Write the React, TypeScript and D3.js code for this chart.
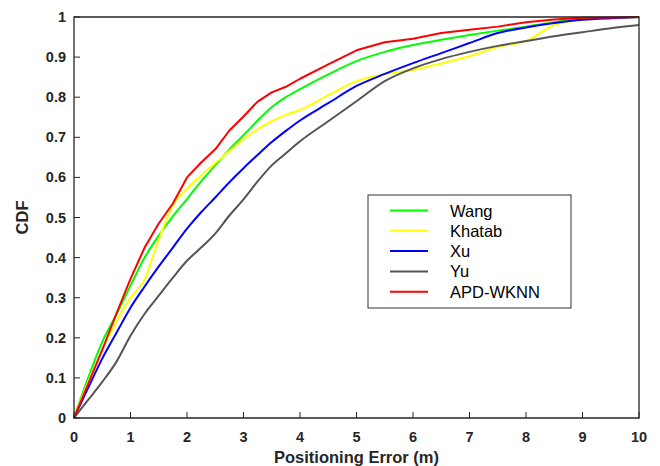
import React from 'react';
import * as d3 from 'd3';

// positioning error grid (m)
const errors = [0, 0.25, 0.5, 0.75, 1, 1.25, 1.5, 1.75, 2, 2.25, 2.5, 2.75, 3, 3.25, 3.5, 3.75, 4, 4.5, 5, 5.5, 6, 6.5, 7, 7.5, 8, 8.5, 9, 9.5, 10];

const wang = [0, 0.1, 0.19, 0.258, 0.33, 0.4, 0.455, 0.503, 0.546, 0.59, 0.63, 0.67, 0.705, 0.742, 0.775, 0.8, 0.82, 0.857, 0.89, 0.913, 0.93, 0.943, 0.955, 0.966, 0.976, 0.987, 0.995, 0.998, 1.0];
const khatab = [0, 0.09, 0.17, 0.24, 0.3, 0.345, 0.445, 0.53, 0.572, 0.605, 0.636, 0.666, 0.695, 0.72, 0.74, 0.756, 0.768, 0.805, 0.84, 0.857, 0.868, 0.884, 0.902, 0.925, 0.94, 0.98, 0.993, 0.998, 1.0];
const xu = [0, 0.075, 0.148, 0.212, 0.275, 0.328, 0.378, 0.425, 0.472, 0.513, 0.55, 0.588, 0.623, 0.656, 0.688, 0.716, 0.742, 0.785, 0.828, 0.858, 0.885, 0.91, 0.935, 0.96, 0.974, 0.985, 0.993, 0.997, 1.0];
const yu = [0, 0.045, 0.09, 0.14, 0.205, 0.26, 0.305, 0.35, 0.392, 0.425, 0.46, 0.505, 0.545, 0.59, 0.63, 0.66, 0.69, 0.74, 0.79, 0.84, 0.872, 0.895, 0.913, 0.928, 0.94, 0.952, 0.962, 0.972, 0.98];
const apdWknn = [0, 0.085, 0.17, 0.26, 0.347, 0.425, 0.485, 0.535, 0.6, 0.637, 0.67, 0.717, 0.752, 0.789, 0.812, 0.826, 0.846, 0.882, 0.917, 0.937, 0.946, 0.96, 0.968, 0.976, 0.987, 0.994, 0.998, 0.999, 1.0];

const seriesNames = ['Wang', 'Khatab', 'Xu', 'Yu', 'APD-WKNN'];
const seriesValues = [wang, khatab, xu, yu, apdWknn];
const seriesColors = ['#00ff00', '#ffff00', '#0000ff', '#555555', '#ff0000'];

const xTicks = [0, 1, 2, 3, 4, 5, 6, 7, 8, 9, 10];
const yTicks = [0, 0.1, 0.2, 0.3, 0.4, 0.5, 0.6, 0.7, 0.8, 0.9, 1];

const W = 660;
const H = 466;
const margin = { top: 17, right: 21, bottom: 48, left: 74 };
const axisColor = '#262626';
const font = "Arial, 'Liberation Sans', Helvetica, sans-serif";

export default function App() {
  const x = d3.scaleLinear().domain([0, 10]).range([margin.left, W - margin.right]);
  const y = d3.scaleLinear().domain([0, 1]).range([H - margin.bottom, margin.top]);

  const makeLine = (smooth: boolean) =>
    d3.line<number>()
      .x((_, i) => x(errors[i]))
      .y(d => y(d))
      .curve(smooth ? d3.curveMonotoneX : d3.curveLinear);

  const x0 = margin.left, x1 = W - margin.right;
  const y0 = H - margin.bottom, y1 = margin.top;

  // legend box
  const lg = { x: 368, y: 195, w: 203, h: 113 };
  const rowH = 20.3;

  return (
    <svg width={W} height={H} style={{ position: 'absolute', left: 0, top: 0, background: '#fff' }}>
      <rect x={0} y={0} width={W} height={H} fill="#fff" />

      {seriesValues.map((vals, i) => (
        <path key={seriesNames[i]} d={makeLine(i !== 4)(vals) || ''} fill="none"
          stroke={seriesColors[i]} strokeWidth={2} strokeLinejoin="round" />
      ))}

      {/* box */}
      <path d={`M${x0},${y1}H${x1}V${y0}H${x0}Z`} fill="none" stroke={axisColor} strokeWidth={1.3} />

      {xTicks.map(t => (
        <g key={'x' + t}>
          <line x1={x(t)} x2={x(t)} y1={y0} y2={y0 - 6} stroke={axisColor} strokeWidth={1} />
          <text x={x(t)} y={y0 + 23.5} textAnchor="middle" fontFamily={font} fontWeight="bold"
            fontSize={14.5} fill={axisColor}>{t}</text>
        </g>
      ))}
      {yTicks.map(t => (
        <g key={'y' + t}>
          <line x1={x0} x2={x0 + 6} y1={y(t)} y2={y(t)} stroke={axisColor} strokeWidth={1} />
          <text x={x0 - 8} y={y(t) + 5} textAnchor="end" fontFamily={font} fontWeight="bold"
            fontSize={14.5} fill={axisColor}>{t}</text>
        </g>
      ))}

      <text x={(x0 + x1) / 2} y={463} textAnchor="middle" fontFamily={font} fontWeight="bold"
        fontSize={16.5} fill={axisColor}>Positioning Error (m)</text>
      <text transform={`translate(28,${(y0 + y1) / 2}) rotate(-90)`} textAnchor="middle"
        fontFamily={font} fontWeight="bold" fontSize={16.5} fill={axisColor}>CDF</text>

      <rect x={lg.x} y={lg.y} width={lg.w} height={lg.h} fill="#fff" stroke="#333" strokeWidth={1} />
      {seriesNames.map((name, i) => {
        const cy = lg.y + 15.5 + i * rowH;
        return (
          <g key={'lg' + name}>
            <line x1={390} x2={428} y1={cy} y2={cy} stroke={seriesColors[i]} strokeWidth={2} />
            <text x={450} y={cy + 6} fontFamily={font} fontSize={16.5} fill="#000">{name}</text>
          </g>
        );
      })}
    </svg>
  );
}
